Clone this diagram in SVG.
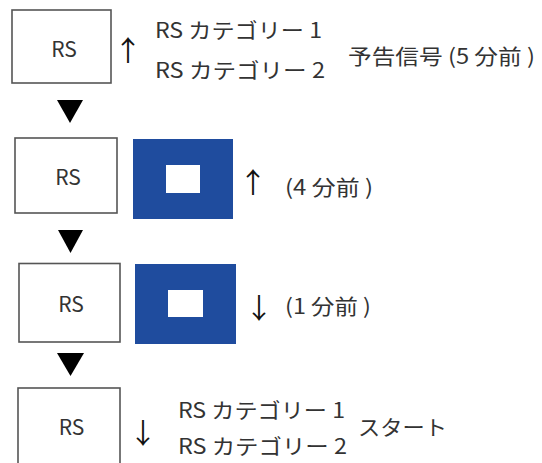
<svg xmlns="http://www.w3.org/2000/svg" width="542" height="463" viewBox="0 0 542 463">
<style>
.box{fill:#fff;stroke:#555;stroke-width:1.6}
.blue{fill:#1f4c9e}
.inner{fill:#fff}
.t{font-family:"Noto Sans CJK JP","Noto Sans",sans-serif;font-size:21px;fill:#333}
.rs{font-family:"Noto Sans CJK JP","Noto Sans",sans-serif;font-size:21px;fill:#333;text-anchor:middle}
.arr{font-family:"Noto Sans CJK JP","DejaVu Sans",sans-serif;font-size:28px;fill:#111;text-anchor:middle}
.tri{fill:#000}
</style>
<rect width="542" height="463" fill="#fff"/>
<g id="node1">
<rect class="box" x="12" y="10" width="99" height="73"/>
<text class="rs" x="64" y="57">RS</text>
<text class="arr" x="128" y="61">↑</text>
<text class="t" x="155" y="38" textLength="167" lengthAdjust="spacingAndGlyphs">RS カテゴリー 1</text>
<text class="t" x="155" y="78" textLength="170" lengthAdjust="spacingAndGlyphs">RS カテゴリー 2</text>
<text class="t" x="348" y="64" textLength="187" lengthAdjust="spacingAndGlyphs">予告信号 (5 分前 )</text>
</g>
<g id="node2">
<rect class="box" x="15" y="138" width="102" height="75"/>
<text class="rs" x="68" y="185">RS</text>
<rect class="blue" x="133" y="139" width="100" height="80"/>
<rect class="inner" x="166" y="165" width="34" height="28"/>
<text class="arr" x="253" y="193">↑</text>
<text class="t" x="285" y="195" textLength="88" lengthAdjust="spacingAndGlyphs">(4 分前 )</text>
</g>
<g id="node3">
<rect class="box" x="19" y="263.5" width="101" height="78.5"/>
<text class="rs" x="71" y="312">RS</text>
<rect class="blue" x="135" y="264" width="101" height="80"/>
<rect class="inner" x="168" y="290" width="35" height="27"/>
<text class="arr" x="259" y="319">↓</text>
<text class="t" x="285" y="314" textLength="86" lengthAdjust="spacingAndGlyphs">(1 分前 )</text>
</g>
<g id="node4">
<rect class="box" x="18" y="388" width="102" height="90"/>
<text class="rs" x="71.5" y="435">RS</text>
<text class="arr" x="143" y="444">↓</text>
<text class="t" x="178" y="418" textLength="167" lengthAdjust="spacingAndGlyphs">RS カテゴリー 1</text>
<text class="t" x="178" y="454" textLength="169" lengthAdjust="spacingAndGlyphs">RS カテゴリー 2</text>
<text class="t" x="358" y="435" textLength="89" lengthAdjust="spacingAndGlyphs">スタート</text>
</g>
<g id="connectors">
<polygon class="tri" points="57,100 83,100 70,123"/>
<polygon class="tri" points="58,230 83,230 70.5,253"/>
<polygon class="tri" points="57,353 84,353 70.5,376"/>
</g>
</svg>
